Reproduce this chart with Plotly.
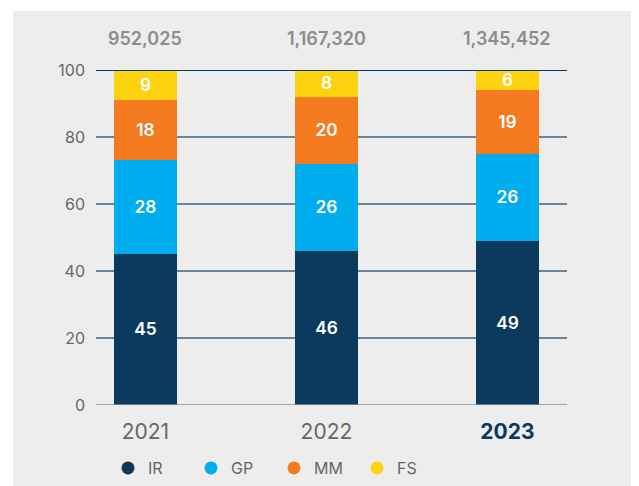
import plotly.graph_objects as go

years = ["2021", "2022", "2023"]
totals = ["952,025", "1,167,320", "1,345,452"]
series_names = ["IR", "GP", "MM", "FS"]
ir = [45, 46, 49]
gp = [28, 26, 26]
mm = [18, 20, 19]
fs = [9, 8, 6]
colors = ["#0b3a5e", "#00aeef", "#f47b20", "#fdd20e"]
y_ticks = [0, 20, 40, 60, 80, 100]
y_max = 100

FONT = "Inter, Roboto, Arial, sans-serif"
# page has an 8px body margin; figure laid out in its own coordinates
W, H = 631, 478
L, R, T, B = 88, 72, 62, 81
PW, PH = W - L - R, H - T - B

fig = go.Figure()
xs = [0, 1, 2]
for name, vals, col in zip(series_names, [ir, gp, mm, fs], colors):
    fig.add_trace(go.Bar(
        x=xs, y=vals, name=name, marker=dict(color=col, line=dict(width=0)),
        width=0.35, text=[str(v) for v in vals], texttemplate="%{text}",
        textposition="inside", insidetextanchor="middle", textangle=0,
        textfont=dict(color="white", size=19, family=FONT, weight=600),
        showlegend=False, hoverinfo="skip"))
# legend entries with circle markers
for name, col in zip(series_names, colors):
    fig.add_trace(go.Scatter(x=[None], y=[None], mode="markers", name=name,
                             marker=dict(symbol="circle", size=13, color=col)))

for i, t in enumerate(totals):
    fig.add_annotation(x=xs[i], y=1.0955, xref="x", yref="paper", yanchor="middle",
                       text=t, showarrow=False,
                       font=dict(size=18, color="#8c8c8c", family=FONT, weight=600))

ticktext = [years[0], years[1], '<b><span style="color:#0b3a5e">%s</span></b>' % years[2]]

fig.update_layout(
    width=W, height=H,
    margin=dict(l=L, r=R, t=T, b=B, autoexpand=False),
    paper_bgcolor="white", plot_bgcolor="rgba(0,0,0,0)",
    barmode="stack", bargap=0,
    uniformtext=dict(minsize=17, mode="show"),
    font=dict(family=FONT, color="#666666"),
    xaxis=dict(range=[-0.273, 2.329], tickvals=xs, ticktext=ticktext,
               tickfont=dict(size=21, color="#666666", family=FONT),
               showgrid=False, zeroline=False, showline=False, ticks="",
               ticklabelstandoff=12, fixedrange=True),
    yaxis=dict(range=[0, y_max], tickvals=y_ticks, showgrid=True, gridcolor="#6a849c",
               gridwidth=1.5, zeroline=False, showline=False, ticks="",
               tickfont=dict(size=16, color="#666666", family=FONT),
               ticklabelstandoff=10),
    legend=dict(orientation="h", x=12 / PW, y=-0.188, xanchor="left", yanchor="middle",
                traceorder="normal",
                font=dict(size=16, color="#666666", family=FONT),
                entrywidth=38, itemwidth=30, bgcolor="rgba(0,0,0,0)"),
    shapes=[
        dict(type="rect", xref="paper", yref="paper", x0=-(L - 5) / PW, x1=(W - L) / PW,
             y0=-B / PH, y1=(PH + T - 3) / PH, fillcolor="#ededed", line=dict(width=0), layer="below"),
        dict(type="line", xref="paper", yref="y", x0=0, x1=1, y0=100, y1=100,
             line=dict(color="#0b3a5e", width=2), layer="above"),
        dict(type="line", xref="paper", yref="y", x0=0, x1=1, y0=0, y1=0,
             line=dict(color="#8c8c8c", width=1.5), layer="above"),
    ],
)
fig.write_html("out.html")
